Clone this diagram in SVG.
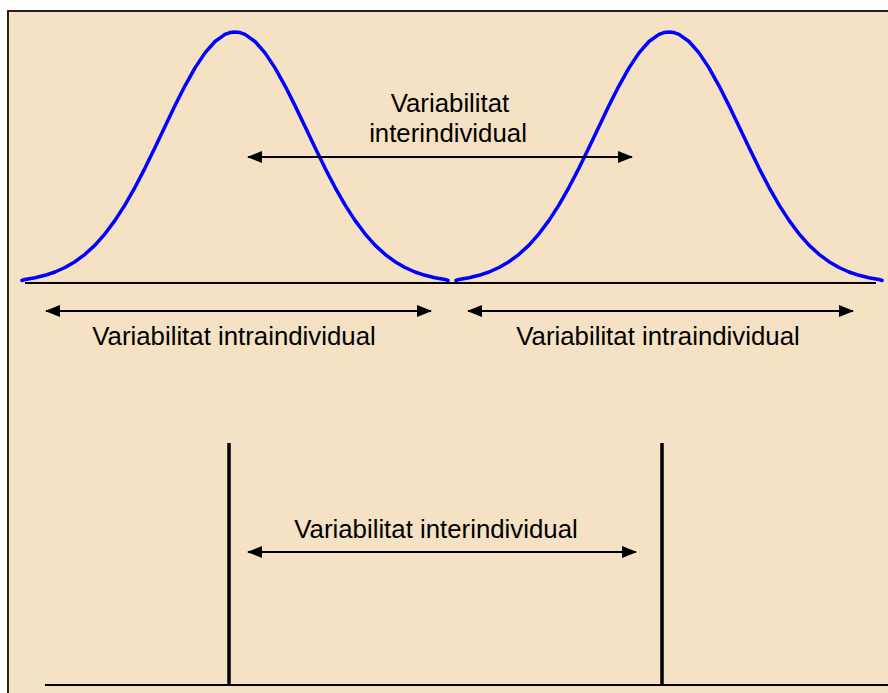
<svg xmlns="http://www.w3.org/2000/svg" xmlns:xlink="http://www.w3.org/1999/xlink" width="888" height="693" viewBox="0 0 888 693">
  <style>
    .lbl { font-family: "Liberation Sans", Arial, sans-serif; font-size: 25.8px; fill: #000; text-anchor: middle; }
    .axis { stroke: #000; stroke-width: 2; fill: none; }
    .bar { stroke: #000; stroke-width: 3.5; fill: none; }
    .curve { stroke: #0000FF; stroke-width: 3.5; fill: none; stroke-linejoin: round; stroke-linecap: round; }
    .arr { stroke: #000; stroke-width: 2; fill: none; marker-start: url(#ah); marker-end: url(#ah); }
  </style>
  <defs>
    <marker id="ah" viewBox="0 0 15 12" refX="14" refY="6" markerWidth="15" markerHeight="12" markerUnits="userSpaceOnUse" orient="auto-start-reverse">
      <path d="M0,0 L15,6 L0,12 Z" fill="#000"/>
    </marker>
    <polyline id="gauss" class="curve" points="-213,280.5 -210,279.4 -200,277.7 -190,275.3 -180,272.0 -170,267.5 -160,261.7 -150,254.3 -140,245.1 -130,233.8 -120,220.4 -110,204.9 -100,187.3 -90,168.1 -80,147.6 -70,126.5 -60,105.6 -50,85.8 -40,67.9 -30,52.9 -20,41.5 -10,34.4 -5,32.6 0,32 5,32.6 10,34.4 20,41.5 30,52.9 40,67.9 50,85.8 60,105.6 70,126.5 80,147.6 90,168.1 100,187.3 110,204.9 120,220.4 130,233.8 140,245.1 150,254.3 160,261.7 170,267.5 180,272.0 190,275.3 200,277.7 210,279.4 213,280.5"/>
  </defs>
  <rect x="0" y="0" width="888" height="693" fill="#FFFFFF"/>
  <rect x="8" y="11" width="890" height="700" fill="#F5E1C3" stroke="#222" stroke-width="2"/>

  <g id="top-axis">
    <line class="axis" x1="25" y1="283" x2="876" y2="283"/>
  </g>
  <g id="curve-left">
    <use xlink:href="#gauss" transform="translate(235,0)"/>
  </g>
  <g id="curve-right">
    <use xlink:href="#gauss" transform="translate(669,0)"/>
  </g>

  <g id="bottom-axis">
    <line class="axis" x1="45" y1="685" x2="888" y2="685" stroke-width="3"/>
  </g>
  <g id="bar-left">
    <line class="bar" x1="229" y1="443" x2="229" y2="686"/>
  </g>
  <g id="bar-right">
    <line class="bar" x1="662" y1="443" x2="662" y2="686"/>
  </g>

  <g id="connectors">
    <line class="arr" x1="248" y1="157" x2="632" y2="157"/>
    <line class="arr" x1="46" y1="311" x2="431" y2="311"/>
    <line class="arr" x1="468" y1="311" x2="853" y2="311"/>
    <line class="arr" x1="248" y1="552" x2="636" y2="552"/>
  </g>

  <g id="label-inter-top">
    <text class="lbl" x="450" y="112">Variabilitat</text>
    <text class="lbl" x="448" y="142">interindividual</text>
  </g>
  <g id="label-intra-left">
    <text class="lbl" x="234" y="345">Variabilitat intraindividual</text>
  </g>
  <g id="label-intra-right">
    <text class="lbl" x="658" y="345">Variabilitat intraindividual</text>
  </g>
  <g id="label-inter-bottom">
    <text class="lbl" x="436" y="538">Variabilitat interindividual</text>
  </g>
</svg>
